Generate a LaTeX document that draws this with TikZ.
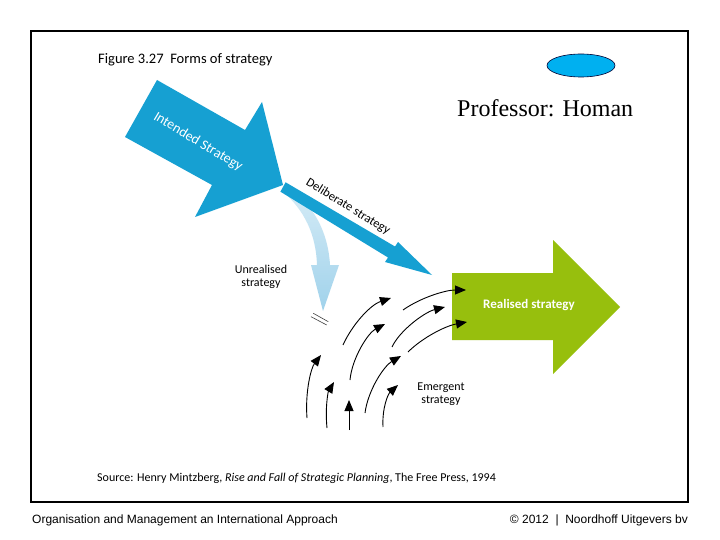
\documentclass[tikz,border=0pt]{standalone}
\usepackage{fontspec}
\setmainfont{Liberation Serif}
\newfontfamily\figfont{Carlito}
\newfontfamily\arialfont{Liberation Sans}
\usetikzlibrary{arrows.meta,shapes.geometric}
\definecolor{intblue}{RGB}{22,160,210}
\definecolor{relgreen}{RGB}{151,191,13}
\definecolor{cyanell}{RGB}{0,176,240}
\definecolor{unrtop}{RGB}{212,235,246}
\definecolor{unrbot}{RGB}{160,210,235}
\begin{document}
\begin{tikzpicture}[x=1pt,y=-1pt,
  emarrow/.style={draw=black, line width=0.9pt, -{Triangle[length=11pt,width=9pt]}},
  figtext/.style={font=\figfont\fontsize{#1}{#1}\selectfont, inner sep=0pt, align=center},
  figtext/.default=10]
\useasboundingbox (0,0) rectangle (720,540);
\fill[white] (0,0) rectangle (720,540);
\draw[line width=1.1pt] (31,31) rectangle (688,502);

% title
\node[figtext=14.5, anchor=west] (title) at (98,60) {Figure 3.27\ \ Forms of strategy};

% ellipse and professor
\node[ellipse, draw=black!80!blue, line width=0.6pt, fill=cyanell, minimum width=68pt, minimum height=23pt, inner sep=0pt] (ell) at (581,65.5) {};
\node[anchor=west, font=\fontsize{24}{28}\selectfont, inner sep=0pt] (prof) at (457,108) {Professor: Homan};

% unrealised strategy arrow
\shade[top color=unrtop, bottom color=unrbot]
  (281,190) .. controls (305,210) and (316,235) .. (317,265) -- (311,265) -- (323,311)
  -- (339,265) -- (330,265) .. controls (328,230) and (312,205) .. (293,192) -- cycle;
\draw[black!75, line width=0.6pt] (311,316.7) -- (326.7,325);
\draw[black!75, line width=0.6pt] (313.3,313.3) -- (328.3,321.7);

% deliberate strategy arrow
\fill[intblue] (285.6,182.3) -- (395,246.5) -- (398,242) -- (432,275) -- (385,262)
  -- (388,257.5) -- (280.4,191.7) -- cycle;

% intended strategy arrow
\fill[intblue] (157,80) -- (245,130) -- (262,102) -- (283,185) -- (195,217) -- (212,185)
  -- (125,137) -- cycle;
\node[figtext=14, text=white, rotate=-31] (intended) at (198,142) {Intended Strategy};
\node[figtext=12.5, rotate=-31.5] (deliberate) at (348,207) {Deliberate strategy};

% realised strategy arrow
\fill[relgreen] (452,273) -- (553,273) -- (553,240) -- (620,307) -- (553,374)
  -- (553,340) -- (452,340) -- cycle;
\node[text=white, inner sep=0pt, font=\figfont\bfseries\fontsize{13}{13}\selectfont] (realised) at (529,305) {Realised strategy};

% labels
\node[figtext=12] (unrealised) at (261,277) {Unrealised\\[1pt]strategy};
\node[figtext=12] (emergent) at (441,394) {Emergent\\[1pt]strategy};

% emergent arrows
\coordinate (a0) at (307,418); \coordinate (a1) at (321,355);
\coordinate (b0) at (327,428); \coordinate (b1) at (334,382);
\coordinate (c0) at (349,430); \coordinate (c1) at (349,400);
\coordinate (d0) at (343,345); \coordinate (d1) at (391,298);
\coordinate (e0) at (350,380); \coordinate (e1) at (385,324);
\coordinate (f0) at (365,413); \coordinate (f1) at (401,356);
\coordinate (g0) at (383,427); \coordinate (g1) at (398,385);
\coordinate (h0) at (403,310); \coordinate (h1) at (466,290);
\coordinate (i0) at (392,347); \coordinate (i1) at (445,307);
\coordinate (j0) at (408,352); \coordinate (j1) at (467,322);
\draw[emarrow] (a0) .. controls (305,392) and (311,368) .. (a1);
\draw[emarrow] (b0) .. controls (325,408) and (328,392) .. (b1);
\draw[emarrow] (c0) -- (c1);
\draw[emarrow] (d0) .. controls (352,325) and (370,305) .. (d1);
\draw[emarrow] (e0) .. controls (352,358) and (368,333) .. (e1);
\draw[emarrow] (f0) .. controls (368,390) and (384,366) .. (f1);
\draw[emarrow] (g0) .. controls (382,408) and (388,394) .. (g1);
\draw[emarrow] (h0) .. controls (420,298) and (445,290) .. (h1);
\draw[emarrow] (i0) .. controls (400,330) and (425,312) .. (i1);
\draw[emarrow] (j0) .. controls (422,338) and (445,326) .. (j1);

% source
\node[figtext=12, anchor=west] (source) at (97,478) {Source: Henry Mintzberg, \textit{Rise and Fall of Strategic Planning}, The Free Press, 1994};

% footer
\node[anchor=west, font=\arialfont\fontsize{12}{14}\selectfont, inner sep=0pt] (footl) at (32,520) {Organisation and Management an International Approach};
\node[anchor=east, font=\arialfont\fontsize{12}{14}\selectfont, inner sep=0pt] (footr) at (688,520) {\textcopyright\ 2012 \ |\ \ Noordhoff Uitgevers bv};
\end{tikzpicture}
\end{document}
